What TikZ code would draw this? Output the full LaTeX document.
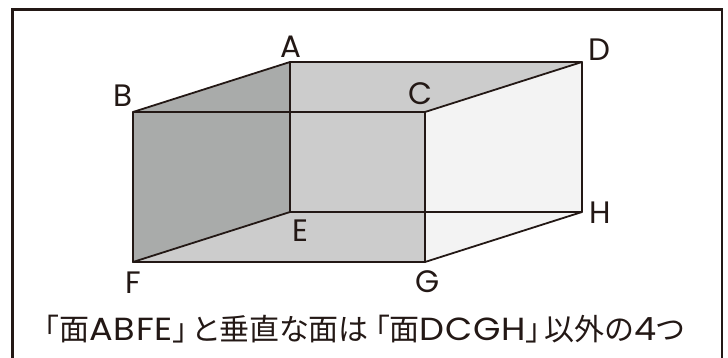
\documentclass[tikz,border=0pt]{standalone}
\usepackage{fontspec}
\setmainfont{Poppins}
\newfontfamily\cjk[RawFeature=+palt]{Noto Sans CJK JP}
\newfontfamily\latnfont[FakeStretch=1.1,LetterSpace=2.5]{Poppins}
\definecolor{ink}{HTML}{231815}
\definecolor{darkface}{HTML}{A9ABAA}
\definecolor{midface}{HTML}{CCCCCC}
\definecolor{lightface}{HTML}{F3F3F3}
\tikzset{
  x=1pt,y=-1pt,
  edge/.style={draw=ink,line width=1.8pt,line join=round,line cap=round},
  vlabel/.style={text=ink,font=\fontsize{31}{31}\selectfont,inner sep=0pt},
  caption/.style={text=ink,inner sep=0pt,anchor=base west}
}
\newcommand{\latn}[1]{{\latnfont\fontsize{32}{32}\selectfont #1}}
\begin{document}
\begin{tikzpicture}
\useasboundingbox (0,0) rectangle (728,358);
\coordinate (A) at (290,62);
\coordinate (B) at (133,112);
\coordinate (C) at (425,112);
\coordinate (D) at (582,62);
\coordinate (E) at (290,212);
\coordinate (F) at (133,262);
\coordinate (G) at (425,262);
\coordinate (H) at (582,212);
\fill[lightface] (C) -- (D) -- (H) -- (G) -- cycle;
\fill[midface] (A) -- (D) -- (C) -- (G) -- (F) -- (E) -- cycle;
\fill[darkface] (A) -- (B) -- (F) -- (E) -- cycle;
\draw[edge] (A) -- (B) -- (F) -- (E) -- cycle;
\draw[edge] (A) -- (D) -- (H) -- (E);
\draw[edge] (B) -- (C) -- (G) -- (F);
\draw[edge] (C) -- (D);
\draw[edge] (G) -- (H);
\draw[draw=ink,line width=2.4pt] (12.5,358) -- (12.5,9.5) -- (722,9.5) -- (722,358);
\node[vlabel] (la) at (291,46.5) {A};
\node[vlabel] (lb) at (123,96) {B};
\node[vlabel] (lc) at (420,94) {C};
\node[vlabel] (ld) at (599.5,50) {D};
\node[vlabel] (le) at (300.5,230.5) {E};
\node[vlabel] (lf) at (133,283) {F};
\node[vlabel] (lg) at (428,282) {G};
\node[vlabel] (lh) at (600,213) {H};
\node[caption] (cap) at (44,340) {\cjk\fontsize{30}{30}\selectfont 「面\latn{ABFE}」\hspace{5pt}と垂直な面は\hspace{6pt}「面\latn{DCGH}」\hspace{4pt}以外の\hspace{1pt}\latn{4}つ};
\end{tikzpicture}
\end{document}
